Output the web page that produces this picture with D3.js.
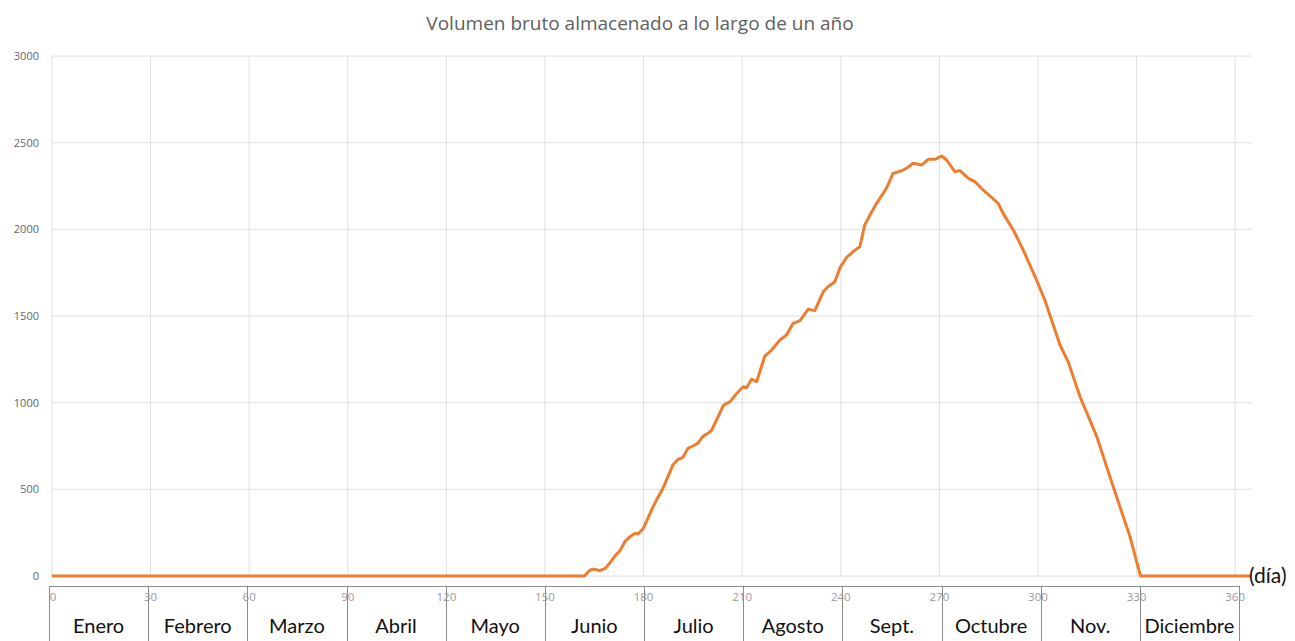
<!DOCTYPE html>
<html lang="es">
<head>
	<meta charset="UTF-8">
	<title>Volumen bruto almacenado</title>
	<script src="https://d3js.org/d3.v7.min.js"></script>
	<style>
		body { margin: 0; background: #fff; }
		.grid line { stroke: #e0e0e0; stroke-width: 1; }
		.ylab { font-family: "Open Sans", sans-serif; font-size: 11px; fill: #666; }
		.title { font-family: "Open Sans", sans-serif; font-size: 19px; fill: #5f5f5f; }
		.daylab { font-family: "Open Sans", sans-serif; font-size: 11.5px; fill: #999; }
		.month { font-family: Lato, sans-serif; font-size: 20px; fill: #111; }
		.box { stroke: #8c8c8c; stroke-width: 1; }
	</style>
</head>
<body>
<svg id="chart" width="1295" height="641"></svg>
<script>
const width = 1295, height = 641;

// day of year / stored volume
const days = [0, 158, 162, 163.7, 165.2, 166.7, 168.3, 169.8, 171.3, 172.8, 174.3, 175.9, 177.4, 178.3, 179.8,
	181.3, 182.9, 184.4, 185.9, 187.4, 188.9, 190.5, 192, 193.5, 195, 196.5, 198, 199.6, 200.7, 202.2, 204.3,
	206.3, 208.4, 210.3, 211.3, 212.9, 214.4, 216.9, 219, 221.5, 223.5, 225.5, 227.6, 230.1, 232.1, 234.7,
	236.2, 238.2, 239.8, 241.8, 244.3, 245.8, 247.3, 248.9, 250.9, 251.9, 253.9, 255.9, 258.5, 260, 262,
	264.6, 266.6, 268.7, 270.7, 272.2, 274.7, 276.3, 278.8, 280.8, 283.3, 286.4, 287.9, 289.4, 292.5, 295.5,
	299.6, 302.1, 306.7, 309.2, 312.8, 317.9, 322.9, 328, 331.2, 365];
const volumes = [0, 0, 0, 35, 39, 31, 44, 77, 115, 146, 198, 227, 246, 242, 271,
	333, 400, 454, 506, 573, 640, 673, 685, 737, 750, 765, 804, 823, 842, 900, 985,
	1006, 1054, 1092, 1086, 1135, 1121, 1269, 1304, 1362, 1390, 1458, 1473, 1539, 1531, 1641,
	1670, 1698, 1780, 1838, 1880, 1900, 2025, 2083, 2150, 2179, 2237, 2323, 2338, 2352, 2381,
	2371, 2404, 2404, 2423, 2400, 2333, 2339, 2294, 2275, 2227, 2175, 2150, 2092, 1996, 1881,
	1705, 1592, 1333, 1236, 1034, 804, 515, 227, 0, 0];

const yTicks = [0, 500, 1000, 1500, 2000, 2500, 3000];
const dayTicks = [0, 30, 60, 90, 120, 150, 180, 210, 240, 270, 300, 330, 360];
const months = ["Enero", "Febrero", "Marzo", "Abril", "Mayo", "Junio", "Julio", "Agosto",
	"Sept.", "Octubre", "Nov.", "Diciembre"];

const x = d3.scaleLinear().domain([0, 365]).range([52, 1251.6]);
const y = d3.scaleLinear().domain([0, 3000]).range([576, 56]);
// month table below the chart sits slightly off the plot scale
const xBox = d3.scaleLinear().domain([0, 360]).range([49, 1239]);

const svg = d3.select("#chart");

svg.append("text")
	.attr("class", "title")
	.attr("x", 640)
	.attr("y", 30)
	.attr("text-anchor", "middle")
	.text("Volumen bruto almacenado a lo largo de un año");

// gridlines
const grid = svg.append("g").attr("class", "grid");
grid.selectAll(".h")
	.data(yTicks)
	.enter()
	.append("line")
	.attr("x1", x(0))
	.attr("x2", x(365))
	.attr("y1", d => y(d))
	.attr("y2", d => y(d));
grid.selectAll(".v")
	.data(dayTicks)
	.enter()
	.append("line")
	.attr("x1", d => x(d))
	.attr("x2", d => x(d))
	.attr("y1", y(3000))
	.attr("y2", y(0));

// y labels
svg.selectAll(".ylab")
	.data(yTicks)
	.enter()
	.append("text")
	.attr("class", "ylab")
	.attr("x", 39)
	.attr("y", d => y(d) + 4)
	.attr("text-anchor", "end")
	.text(d => d);

// line
const line = d3.line()
	.x((d, i) => x(days[i]))
	.y(d => y(d));

svg.append("path")
	.datum(volumes)
	.attr("fill", "none")
	.attr("stroke", "#ED7D31")
	.attr("stroke-width", 3)
	.attr("stroke-linejoin", "round")
	.attr("d", line);

svg.append("text")
	.attr("class", "month")
	.style("font-size", "21px")
	.attr("x", 1249)
	.attr("y", 583)
	.text("(día)");

// month table
svg.append("line")
	.attr("class", "box")
	.attr("x1", xBox(0))
	.attr("x2", xBox(360))
	.attr("y1", 586.5)
	.attr("y2", 586.5);

svg.selectAll(".sep")
	.data(dayTicks)
	.enter()
	.append("line")
	.attr("class", "box")
	.attr("x1", d => Math.round(xBox(d)) + 0.5)
	.attr("x2", d => Math.round(xBox(d)) + 0.5)
	.attr("y1", 586)
	.attr("y2", height);

svg.selectAll(".daylab")
	.data(dayTicks)
	.enter()
	.append("text")
	.attr("class", "daylab")
	.attr("x", d => x(d) + (d === 0 ? 1 : 0))
	.attr("y", 601)
	.attr("text-anchor", "middle")
	.text(d => d);

svg.selectAll(".month-lab")
	.data(months)
	.enter()
	.append("text")
	.attr("class", "month")
	.attr("x", (d, i) => (xBox(i * 30) + xBox(i * 30 + 30)) / 2)
	.attr("y", 633)
	.attr("text-anchor", "middle")
	.text(d => d);
</script>
</body>
</html>
